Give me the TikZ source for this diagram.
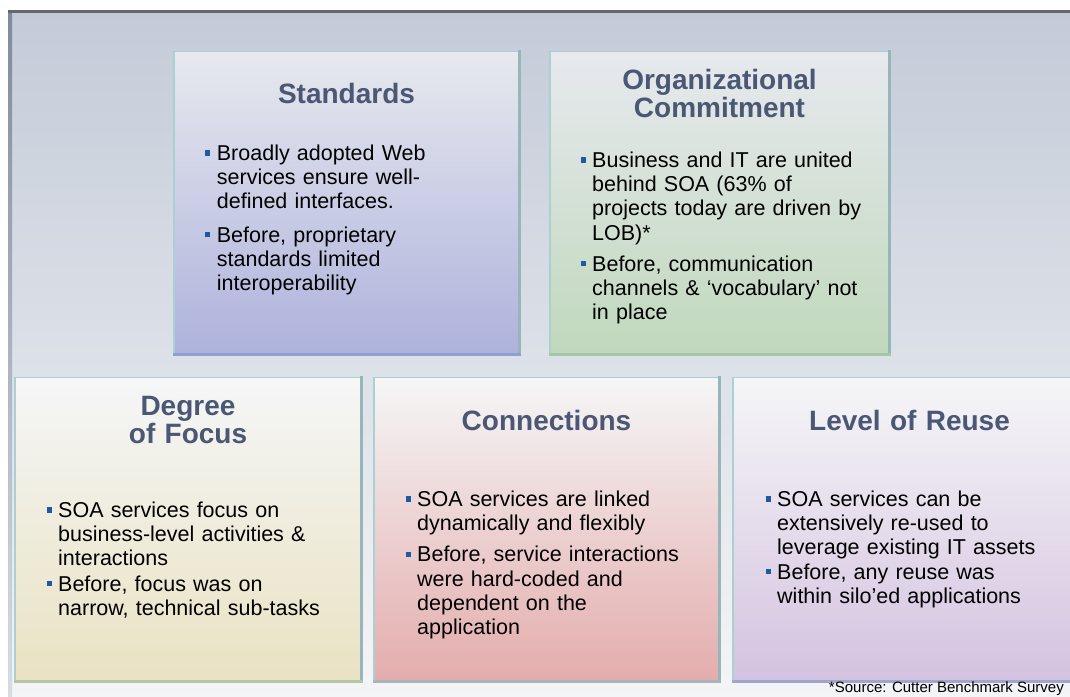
\documentclass[tikz,border=0pt]{standalone}
\usepackage{fontspec}
\setmainfont{Liberation Sans}
\usetikzlibrary{positioning}

\definecolor{titleblue}{RGB}{74,88,118}
\definecolor{bulletblue}{RGB}{31,90,160}
\definecolor{rimteal}{RGB}{170,208,210}
\definecolor{sideteal}{RGB}{150,182,186}
\definecolor{panelTop}{RGB}{196,203,216}
\definecolor{panelBot}{RGB}{244,245,247}
\definecolor{edgeTop}{RGB}{128,138,158}
\definecolor{edgeBot}{RGB}{216,220,227}
\definecolor{topline}{RGB}{98,103,112}
% card fills (top / bottom) and bottom rims
\definecolor{cardTopA}{RGB}{231,233,238}
\definecolor{cardTopB}{RGB}{245,246,247}
\definecolor{stdBot}{RGB}{174,178,220}
\definecolor{orgBot}{RGB}{192,216,188}
\definecolor{focusBot}{RGB}{233,226,194}
\definecolor{connBot}{RGB}{228,172,172}
\definecolor{reuseBot}{RGB}{212,194,224}
\definecolor{stdRim}{RGB}{142,160,210}
\definecolor{orgRim}{RGB}{166,198,168}
\definecolor{focusRim}{RGB}{180,198,164}
\definecolor{connRim}{RGB}{170,178,186}
\definecolor{reuseRim}{RGB}{156,166,206}

% small square bullet hanging left of the text
\newcommand{\itm}{\makebox[0pt][r]{\textcolor{bulletblue}{\rule[0.23em]{0.24em}{0.24em}}\hspace{0.3em}}}

\begin{document}
\begin{tikzpicture}[
    x=1pt, y=-1pt,
    node distance=13pt,
    card/.style 2 args={rectangle, draw=rimteal, line width=1.5pt, top color=#1, bottom color=#2, minimum width=345pt, minimum height=304pt, inner sep=0pt, outer sep=0pt},
    heading/.style={font=\fontsize{28}{28}\selectfont\bfseries, text=titleblue, align=center, text width=320pt, inner sep=0pt, anchor=base},
    body/.style={font=\fontsize{21.5}{24.2}\selectfont, align=left, text width=300pt, inner sep=0pt, anchor=base west},
    rim/.style={line width=3pt, line cap=rect}
]
\useasboundingbox (0,0) rectangle (1070,696);

% panel behind the cards
\fill[top color=panelTop, bottom color=panelBot] (8,10) rectangle (1076,700);
\fill[top color=edgeTop, bottom color=edgeBot] (8,10) rectangle (12,700);
\draw[line width=3pt, topline] (8,11.5) -- (1076,11.5);

% Cards, top row
\node[card={cardTopA}{stdBot}, minimum height=303pt] (std) at (346.5,203) {};
\node[card={cardTopA}{orgBot}, minimum width=339pt, minimum height=303pt, right=31pt of std] (org) {};

% Cards, bottom row
\node[card={cardTopB}{focusBot}, minimum width=346pt] (focus) at (188,529.5) {};
\node[card={cardTopB}{connBot}, right=of focus] (conn) {};
\node[card={cardTopB}{reuseBot}, right=14pt of conn] (reuse) {};

% darker right and bottom edges
\foreach \c in {std, org, focus, conn, reuse}{
  \draw[rim, sideteal] (\c.north east) -- (\c.south east);
  \draw[rim, \c Rim] (\c.south west) -- (\c.south east);
}

% Headings
\node[heading] (stdT) at ([yshift=-52pt]std.north) {Standards};
\node[heading] (orgT) at ([yshift=-38pt]org.north) {Organizational\\Commitment};
\node[heading] (focusT) at ([yshift=-38pt]focus.north) {Degree\\of Focus};
\node[heading] (connT) at ([yshift=-53pt]conn.north) {Connections};
\node[heading] (reuseT) at ([xshift=4pt, yshift=-53pt]reuse.north) {Level of Reuse};

% Bullet text
\node[body] (stdB) at ([xshift=42.7pt, yshift=-109pt]std.north west)
  {\itm Broadly adopted Web\\ services ensure well-\\ defined interfaces.\\[9pt]
   \itm Before, proprietary\\ standards limited\\ interoperability};
\node[body] (orgB) at ([xshift=42pt, yshift=-116pt]org.north west)
  {\itm Business and IT are united\\ behind SOA (63\% of\\ projects today are driven by\\ LOB)*\\[7pt]
   \itm Before, communication\\ channels \& ‘vocabulary’ not\\ in place};
\node[body] (focusB) at ([xshift=43pt, yshift=-140pt]focus.north west)
  {\itm SOA services focus on\\ business-level activities \&\\ interactions\\[1pt]
   \itm Before, focus was on\\ narrow, technical sub-tasks};
\node[body] (connB) at ([xshift=43pt, yshift=-129pt]conn.north west)
  {\itm SOA services are linked\\ dynamically and flexibly\\[7pt]
   \itm Before, service interactions\\ were hard-coded and\\ dependent on the\\ application};
\node[body] (reuseB) at ([xshift=44pt, yshift=-129pt]reuse.north west)
  {\itm SOA services can be\\ extensively re-used to\\ leverage existing IT assets\\[0pt]
   \itm Before, any reuse was\\ within silo’ed applications};

% footnote
\node[font=\fontsize{15}{17}\selectfont, inner sep=0pt, anchor=base east] (src) at (1064,692.5) {*Source: Cutter Benchmark Survey};

\end{tikzpicture}
\end{document}
